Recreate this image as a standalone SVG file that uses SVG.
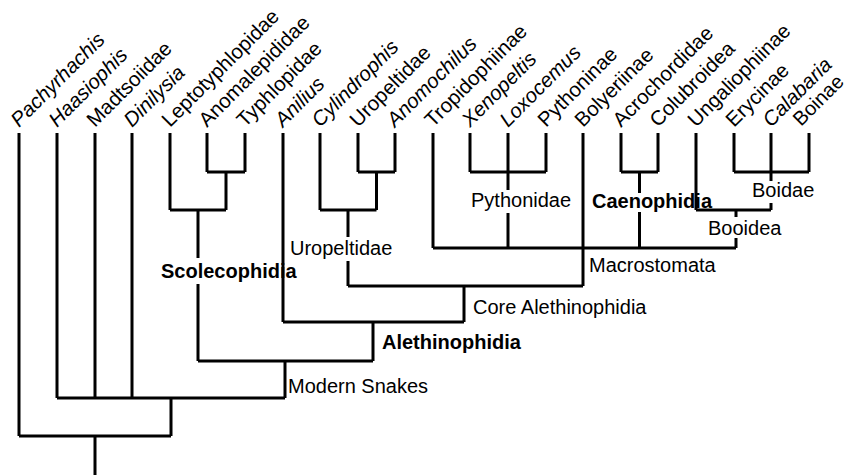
<svg xmlns="http://www.w3.org/2000/svg" width="850" height="475" viewBox="0 0 850 475">
<style>
.t{font-family:"Liberation Sans",Arial,Helvetica,sans-serif;font-size:20px;fill:#000}
.l{font-size:20.5px}
.i{font-style:italic}
.b{font-weight:bold}
.c path{fill:none;stroke:#000;stroke-width:3;stroke-linejoin:miter;stroke-linecap:butt}
</style>
<rect width="850" height="475" fill="#fff"/>
<g class="c" id="connectors">
<path d="M19,133V436M57,133V398M95,133V398M132,133V398"/>
<path d="M57,398H285M285,361V398"/>
<path d="M171,398V436M19,436H171M95,436V475"/>
<path d="M170,133V210M207,133V172M245,133V172M207,172H245M226,172V210M170,210H226"/>
<path d="M198,210V258M198,284V361M198,361H373"/>
<path d="M283,133V322M283,322H464M373,322V361"/>
<path d="M320,133V210M358,133V172M395,133V172M358,172H395M376.5,172V210M320,210H376.5"/>
<path d="M348,210V237M348,261V286M348,286H583M464,286V322"/>
<path d="M433,133V248"/>
<path d="M470,133V172M546,133V172M470,172H546M508,133V190M508,213V248"/>
<path d="M583,133V286"/>
<path d="M621,133V172M658,133V172M621,172H658M639.5,172V193M639.5,212V248"/>
<path d="M696,133V210M734,133V172M809,133V172M734,172H809M771,133V181M771,203V210M696,210H771"/>
<path d="M736,210V217M736,238V248M433,248H736"/>
</g>
<g id="Pachyrhachis"><text class="t l i" transform="translate(19,128) rotate(-45)">Pachyrhachis</text></g>
<g id="Haasiophis"><text class="t l i" transform="translate(57,128) rotate(-45)">Haasiophis</text></g>
<g id="Madtsoiidae"><text class="t l" transform="translate(95,128) rotate(-45)">Madtsoiidae</text></g>
<g id="Dinilysia"><text class="t l i" transform="translate(132,128) rotate(-45)">Dinilysia</text></g>
<g id="Leptotyphlopidae"><text class="t l" transform="translate(170,128) rotate(-45)">Leptotyphlopidae</text></g>
<g id="Anomalepididae"><text class="t l" transform="translate(207,128) rotate(-45)">Anomalepididae</text></g>
<g id="Typhlopidae"><text class="t l" transform="translate(245,128) rotate(-45)">Typhlopidae</text></g>
<g id="Anilius"><text class="t l i" transform="translate(283,128) rotate(-45)">Anilius</text></g>
<g id="Cylindrophis"><text class="t l i" transform="translate(320,128) rotate(-45)">Cylindrophis</text></g>
<g id="Uropeltidae-leaf"><text class="t l" transform="translate(358,128) rotate(-45)">Uropeltidae</text></g>
<g id="Anomochilus"><text class="t l i" transform="translate(395,128) rotate(-45)">Anomochilus</text></g>
<g id="Tropidophiinae"><text class="t l" transform="translate(433,128) rotate(-45)">Tropidophiinae</text></g>
<g id="Xenopeltis"><text class="t l i" transform="translate(470,128) rotate(-45)">Xenopeltis</text></g>
<g id="Loxocemus"><text class="t l i" transform="translate(508,128) rotate(-45)">Loxocemus</text></g>
<g id="Pythoninae"><text class="t l" transform="translate(546,128) rotate(-45)">Pythoninae</text></g>
<g id="Bolyeriinae"><text class="t l" transform="translate(583,128) rotate(-45)">Bolyeriinae</text></g>
<g id="Acrochordidae"><text class="t l" transform="translate(621,128) rotate(-45)">Acrochordidae</text></g>
<g id="Colubroidea"><text class="t l" transform="translate(658,128) rotate(-45)">Colubroidea</text></g>
<g id="Ungaliophiinae"><text class="t l" transform="translate(696,128) rotate(-45)">Ungaliophiinae</text></g>
<g id="Erycinae"><text class="t l" transform="translate(734,128) rotate(-45)">Erycinae</text></g>
<g id="Calabaria"><text class="t l i" transform="translate(771,128) rotate(-45)">Calabaria</text></g>
<g id="Boinae"><text class="t" transform="translate(801,127) rotate(-45)">Boinae</text></g>
<g id="Scolecophidia"><text class="t b" x="161" y="278">Scolecophidia</text></g>
<g id="ModernSnakes"><text class="t" x="288" y="393">Modern Snakes</text></g>
<g id="Alethinophidia"><text class="t b" x="382" y="349">Alethinophidia</text></g>
<g id="CoreAlethinophidia"><text class="t" x="473" y="314">Core Alethinophidia</text></g>
<g id="Uropeltidae"><text class="t" x="290" y="255">Uropeltidae</text></g>
<g id="Macrostomata"><text class="t" x="589" y="272">Macrostomata</text></g>
<g id="Pythonidae"><text class="t" x="471" y="207">Pythonidae</text></g>
<g id="Caenophidia"><text class="t b" x="592" y="208">Caenophidia</text></g>
<g id="Boidae"><text class="t" x="752" y="197">Boidae</text></g>
<g id="Booidea"><text class="t" x="708" y="235">Booidea</text></g>
</svg>
